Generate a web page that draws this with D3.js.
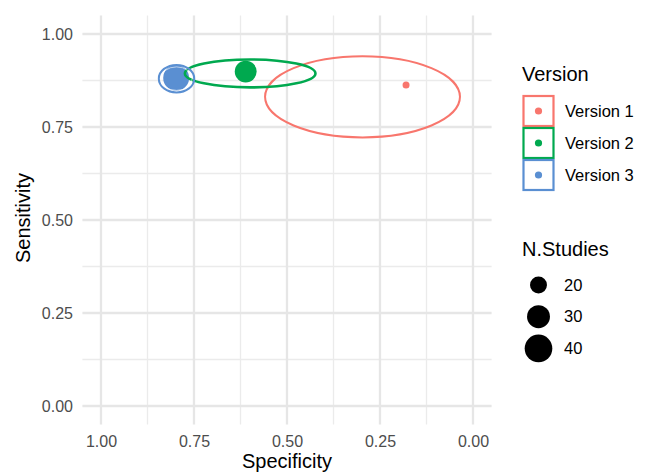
<!DOCTYPE html>
<html><head><meta charset="utf-8">
<script src="https://cdn.jsdelivr.net/npm/d3@7"></script>
<style>body{margin:0;background:#fff}svg{display:block;font-family:"Liberation Sans",Arial,sans-serif}</style>
</head><body><svg id="c" width="647" height="474"></svg>
<script>
// Data
const versions = ["Version 1", "Version 2", "Version 3"];
const colors = ["#F8766D", "#00A94F", "#5A8FD2"];
const specificity = [0.18, 0.611, 0.798];
const sensitivity = [0.863, 0.899, 0.882];
const nStudies = [10, 28, 36];
const ellSpec = [0.297, 0.599, 0.797];
const ellSens = [0.831, 0.894, 0.880];
const ellRx = [0.262, 0.1755, 0.0476];
const ellRy = [0.109, 0.0376, 0.037];
const tickVals = [0, 0.25, 0.5, 0.75, 1];
const minorVals = [0.125, 0.375, 0.625, 0.875];
const sizeBreaks = [20, 30, 40];

const svg = d3.select("#c");
const x = d3.scaleLinear().domain([1.05, -0.05]).range([82.4, 491.6]);
const y = d3.scaleLinear().domain([-0.05, 1.05]).range([424.6, 15.4]);
const area = d3.scaleLinear().domain([10, 40]).range([12.25, 191]);
const r = n => Math.sqrt(area(n));

const g = svg.append("g");
// minor grid
g.selectAll(".mx").data(minorVals).join("line")
  .attr("x1", d => x(d)).attr("x2", d => x(d)).attr("y1", y.range()[0]).attr("y2", y.range()[1])
  .attr("stroke", "#ebebeb").attr("stroke-width", 1.3);
g.selectAll(".my").data(minorVals).join("line")
  .attr("y1", d => y(d)).attr("y2", d => y(d)).attr("x1", x.range()[0]).attr("x2", x.range()[1])
  .attr("stroke", "#ebebeb").attr("stroke-width", 1.3);
// major grid
g.selectAll(".Mx").data(tickVals).join("line")
  .attr("x1", d => x(d)).attr("x2", d => x(d)).attr("y1", y.range()[0]).attr("y2", y.range()[1])
  .attr("stroke", "#e6e6e6").attr("stroke-width", 2.3);
g.selectAll(".My").data(tickVals).join("line")
  .attr("y1", d => y(d)).attr("y2", d => y(d)).attr("x1", x.range()[0]).attr("x2", x.range()[1])
  .attr("stroke", "#e6e6e6").attr("stroke-width", 2.3);

// axes (labels only)
const xAxis = d3.axisBottom(x).tickValues(tickVals).tickFormat(d3.format(".2f")).tickSize(0).tickPadding(0);
const xa = svg.append("g").attr("transform", "translate(0,435.5)").call(xAxis);
const yAxis = d3.axisLeft(y).tickValues(tickVals).tickFormat(d3.format(".2f")).tickSize(0).tickPadding(0);
const ya = svg.append("g").attr("transform", "translate(73,0)").call(yAxis);
[xa, ya].forEach(a => {
  a.select(".domain").remove();
  a.selectAll("text").attr("fill", "#4d4d4d").attr("font-size", 16).attr("font-family", "Liberation Sans, Arial, sans-serif");
});
ya.selectAll("text").attr("dy", "0.35em");

svg.append("text").attr("x", 287).attr("y", 468).attr("text-anchor", "middle")
  .attr("font-size", 20).attr("fill", "#000").text("Specificity");
svg.append("text").attr("transform", "translate(30,218) rotate(-90)").attr("text-anchor", "middle")
  .attr("font-size", 20).attr("fill", "#000").text("Sensitivity");

const idx = d3.range(versions.length);
// points
svg.append("g").selectAll("circle").data(idx).join("circle")
  .attr("cx", i => x(specificity[i])).attr("cy", i => y(sensitivity[i])).attr("r", i => r(nStudies[i]))
  .attr("fill", i => colors[i]);
// ellipses
const kx = Math.abs(x(1) - x(0)), ky = Math.abs(y(1) - y(0));
svg.append("g").selectAll("ellipse").data(idx).join("ellipse")
  .attr("cx", i => x(ellSpec[i])).attr("cy", i => y(ellSens[i]))
  .attr("rx", i => ellRx[i] * kx).attr("ry", i => ellRy[i] * ky)
  .attr("fill", "none").attr("stroke", i => colors[i]).attr("stroke-width", i => i === 1 ? 2.6 : 2);
// inner highlight on the small version-3 ellipse
svg.append("ellipse").datum(2)
  .attr("cx", i => x(ellSpec[i])).attr("cy", i => y(ellSens[i]))
  .attr("rx", i => ellRx[i] * kx - 2).attr("ry", i => ellRy[i] * ky - 2)
  .attr("fill", "none").attr("stroke", "#fff").attr("stroke-width", 0.8).attr("opacity", 0.75);

// legend: Version
const lg = svg.append("g");
lg.append("text").attr("x", 522).attr("y", 81).attr("font-size", 20).attr("fill", "#000").text("Version");
const keyH = 32;
idx.forEach(i => {
  const top = 95 + i * keyH;
  lg.append("rect").attr("x", 523.5).attr("y", top + 1).attr("width", 30).attr("height", keyH - 2)
    .attr("fill", "#fff").attr("stroke", colors[i]).attr("stroke-width", 2.2);
  lg.append("circle").attr("cx", 538.5).attr("cy", top + keyH / 2).attr("r", 3.6).attr("fill", colors[i]);
  lg.append("text").attr("x", 565).attr("y", top + keyH / 2).attr("dy", "0.35em")
    .attr("font-size", 16.5).attr("fill", "#000").text(versions[i]);
});
// legend: N.Studies
lg.append("text").attr("x", 522).attr("y", 256).attr("font-size", 20).attr("fill", "#000").text("N.Studies");
sizeBreaks.forEach((n, k) => {
  const cy = 285 + k * 31.7;
  lg.append("circle").attr("cx", 538.5).attr("cy", cy).attr("r", r(n)).attr("fill", "#000");
  lg.append("text").attr("x", 564).attr("y", cy).attr("dy", "0.35em").attr("font-size", 16.5).attr("fill", "#000").text(n);
});
</script></body></html>
